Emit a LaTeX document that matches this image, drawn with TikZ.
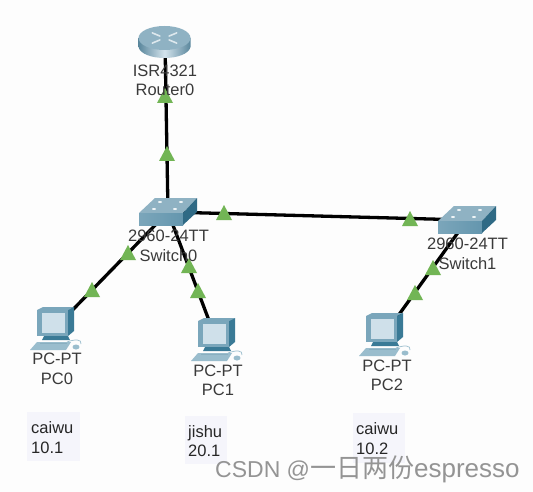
\documentclass[tikz,border=0pt]{standalone}
\usetikzlibrary{calc}
\usepackage{fontspec}
\setmainfont{Liberation Sans}
\newfontfamily\cjkwm{Noto Sans CJK SC}
\definecolor{bgc}{HTML}{FDFDFD}
\definecolor{txt}{HTML}{3A3A3A}
\definecolor{lampg}{HTML}{72B555}
\definecolor{boxc}{HTML}{F5F5FB}
\definecolor{swtop}{HTML}{8FB2C3}
\definecolor{swfront}{HTML}{6496AE}
\definecolor{swside}{HTML}{2F6A85}
\definecolor{pcfr}{HTML}{7AA6BB}
\definecolor{pcscr}{HTML}{CFE0EA}
\definecolor{pcdk}{HTML}{3A7A96}
\definecolor{pcbase}{HTML}{9ABDCD}
\tikzset{
  device/.style={inner sep=0pt,outer sep=0pt},
  devlabel/.style={inner sep=0pt,align=center,text=txt,font=\fontsize{16.5}{19.5}\selectfont},
  note/.style={inner sep=0pt,align=left,anchor=west,text=black!85,font=\fontsize{16.5}{19.5}\selectfont},
  notebox/.style={fill=boxc,draw=none},
  cable/.style={draw=black,line width=3.3pt},
  lamp/.pic={\fill[lampg] (-8,0) -- (0,-15) -- (8,0) -- cycle;},
  pcicon/.pic={
    \fill[pcbase] (0,35) -- (34,35) -- (29,43) -- (-7,43) -- cycle;
    \fill[pcdk] (7,29) -- (31,29) -- (33,33) -- (5,33) -- cycle;
    \fill[pcdk!60] (3,35.5) rectangle (30,37);
    \fill[pcfr] (0,3) -- (6,0) -- (37,0) -- (31,3) -- cycle;
    \fill[pcdk] (31,3) -- (37,0) -- (37,24) -- (31,29) -- cycle;
    \fill[pcfr] (0,3) rectangle (31,29);
    \fill[pcscr] (5,6) rectangle (28,26);
    \draw[pcbase,line width=.7pt] (30,35) .. controls (38,32) and (45,32) .. (44,37);
    \fill[pcbase] (39,40) ellipse (3.5 and 2.5);
  },
  switchicon/.pic={
    \fill[swtop] (0,15) -- (16,0) -- (58,0) -- (44,15) -- cycle;
    \shade[left color=swfront!85!white,right color=swfront] (0,15) rectangle (44,27);
    \fill[swside] (44,15) -- (58,0) -- (58,14) -- (44,27) -- cycle;
    \foreach \p in {(21,4),(42,4),(15,11),(36,11)} \fill[white!85!swtop] \p ellipse (2 and 1);
  },
}
\begin{document}
\begin{tikzpicture}[x=1pt,y=-1pt]
\useasboundingbox (0,0) rectangle (533,492);
\fill[bgc] (0,0) rectangle (533,492);

% device anchors (icon drawn on top afterwards)
\node[device,minimum width=53pt,minimum height=32pt] (router) at (165,42) {};
\node[device,minimum width=58pt,minimum height=27pt] (sw0) at (168,212) {};
\node[device,minimum width=58pt,minimum height=27pt] (sw1) at (467,220) {};
\node[device,minimum width=44pt,minimum height=41pt] (pc0) at (55,328) {};
\node[device,minimum width=44pt,minimum height=42pt] (pc1) at (216,339) {};
\node[device,minimum width=44pt,minimum height=42pt] (pc2) at (385,334) {};

% cables
\draw[cable] (router.center) -- (sw0.center);
\draw[cable] (sw0.center) -- (sw1.center);
\draw[cable] (sw0.center) -- (pc0.center);
\draw[cable] (sw0.center) -- (pc1.center);
\draw[cable] (sw1.center) -- (pc2.center);

% link lights
\pic at (165,103) {lamp};
\pic at (167,161) {lamp};
\pic at (224,220) {lamp};
\pic at (410,226) {lamp};
\pic at (128,260) {lamp};
\pic at (189,273) {lamp};
\pic at (198,298) {lamp};
\pic at (92,297) {lamp};
\pic at (433,275) {lamp};
\pic at (415,300) {lamp};

% router icon
\shade[left color=swfront!90!black,right color=swfront!90!black,middle color=pcscr!90!white]
  (138.5,38) -- (138.5,47) .. controls (140,54) and (152,58) .. (164.5,58)
  .. controls (177,58) and (189,54) .. (190.5,47) -- (190.5,38) -- cycle;
\fill[swtop] (164.5,38) ellipse (26 and 12);
\foreach \a in {40,140,220,320}
  \draw[white!70!swtop,line width=1.6pt,line cap=round]
    ($(164.5,38)+(\a:6 and 3)$) -- ($(164.5,38)+(\a:16 and 8)$);

% switches
\pic at (139,198) {switchicon};
\pic at (438,206) {switchicon};

% pcs
\pic at (37,307) {pcicon};
\pic at (198,318) {pcicon};
\pic at (366,313) {pcicon};

% device labels
\node[devlabel] (lr) at (165,80.5) {ISR4321\\Router0};
\node[devlabel] (ls0) at (168.5,246) {2960-24TT\\Switch0};
\node[devlabel] (ls1) at (467.5,254) {2960-24TT\\Switch1};
\node[devlabel] (lp0) at (57,369) {PC-PT\\PC0};
\node[devlabel] (lp1) at (218,380.5) {PC-PT\\PC1};
\node[devlabel] (lp2) at (387,375.5) {PC-PT\\PC2};

% notes
\fill[notebox] (27,412) rectangle (80,461);
\fill[notebox] (185,416) rectangle (227,464);
\fill[notebox] (353,413) rectangle (405,463);
\node[note] (n0) at (31,437.5) {caiwu\\10.1};
\node[note] (n1) at (188,441) {jishu\\20.1};
\node[note] (n2) at (356,438.5) {caiwu\\10.2};

% watermark
\node[inner sep=0pt,anchor=west,text=black!42,font=\fontsize{23}{26}\selectfont] (wm) at (215,469) {CSDN @{\fontsize{26}{28}\selectfont{\cjkwm 一日两份}espresso}};
\end{tikzpicture}
\end{document}
